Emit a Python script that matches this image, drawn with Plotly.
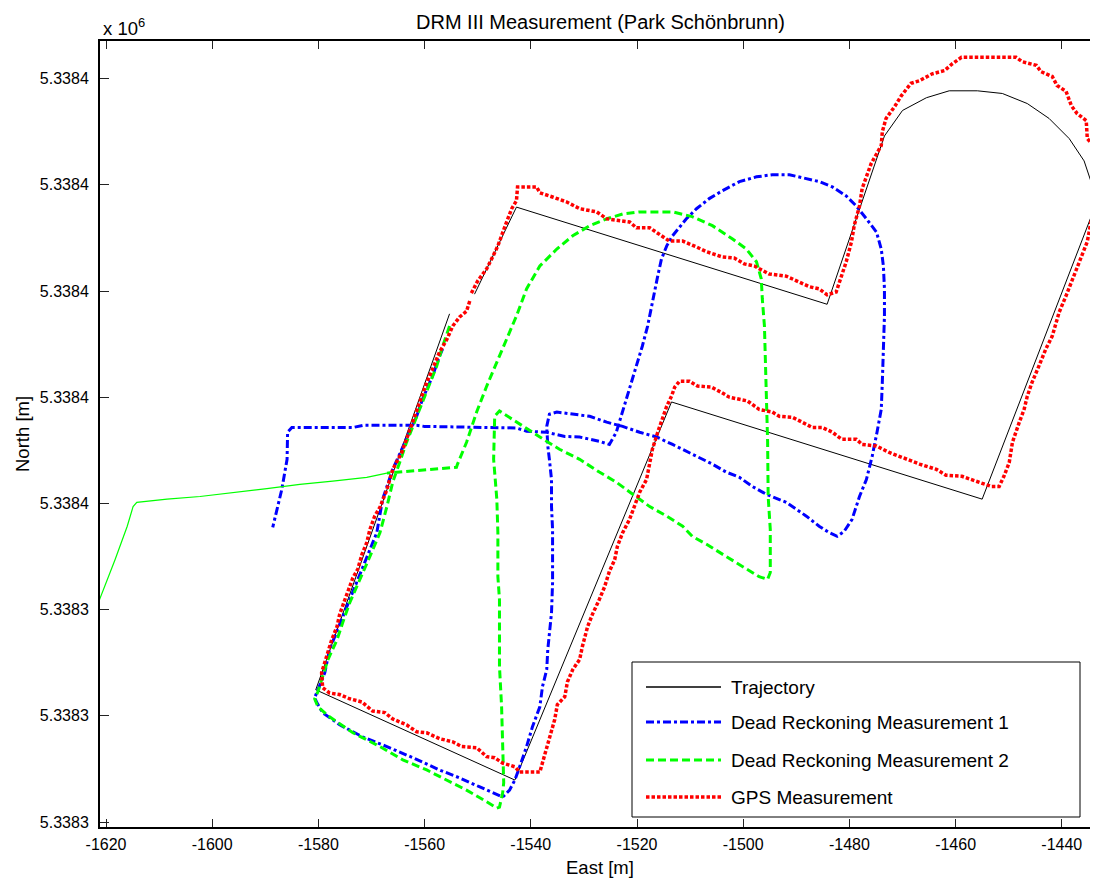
import plotly.graph_objects as go

# ---------------- data (East in m, North as offset in m from NORTH_ORIGIN) ----------------
NORTH_ORIGIN = 5338300.0

traj_east = [-1555.3, -1580.5, -1543.0, -1513.5, -1455.0, -1433.7, -1434.3, -1435.8, -1438.6, -1442.4,
             -1446.5, -1451.2, -1455.9, -1461.2, -1465.5, -1470.0, -1473.4, -1484.2, -1542.7, -1550.6]
traj_north = [95.7, 24.9, 7.9, 79.1, 60.8, 116.0, 120.0, 124.5, 128.7, 132.5,
              135.3, 137.2, 137.7, 137.7, 136.4, 134.0, 129.2, 97.5, 115.8, 99.4]

dr1_east = [-1556.6, -1557.2, -1558.5, -1560.4, -1561.5, -1563.4, -1566.0, -1567.9, -1569.0, -1570.3,
            -1571.6, -1572.8, -1574.1, -1575.6, -1576.9, -1577.9, -1578.8, -1580.1, -1580.7, -1580.3,
            -1579.2, -1576.0, -1571.6, -1567.1, -1562.2, -1557.2, -1553.4, -1549.6, -1547.2, -1545.3,
            -1544.0, -1543.0, -1542.1, -1540.8, -1539.7, -1538.3, -1537.8, -1537.0, -1536.8, -1536.5,
            -1536.1, -1535.9, -1535.9, -1536.1, -1536.1, -1536.5, -1536.8, -1537.0, -1536.5, -1535.1,
            -1532.1, -1528.9, -1525.7, -1522.7, -1519.5, -1516.3, -1513.3, -1510.7, -1508.2, -1505.8,
            -1503.2, -1500.7, -1498.3, -1495.6, -1491.9, -1490.0, -1488.1, -1485.7, -1483.8, -1482.3,
            -1481.0, -1479.5, -1478.1, -1476.8, -1475.7, -1474.8, -1474.0, -1473.8, -1473.6, -1473.4,
            -1473.4, -1473.6, -1474.0, -1474.9, -1476.8, -1478.7, -1480.6, -1483.2, -1485.7, -1488.1,
            -1491.3, -1494.5, -1497.5, -1500.7, -1503.9, -1506.4, -1508.8, -1510.7, -1512.0, -1513.3,
            -1514.4, -1515.4, -1516.1, -1516.7, -1517.3, -1518.0, -1519.0, -1519.9, -1520.8, -1522.0,
            -1523.3, -1523.9, -1525.2, -1527.1, -1530.8, -1533.6, -1537.0, -1540.8, -1542.7, -1547.2,
            -1560.0, -1561.5, -1571.6, -1573.5, -1583.5, -1585.0, -1585.8, -1585.9, -1586.9, -1588.6]
dr1_north = [89.1, 87.7, 84.0, 79.6, 76.4, 72.1, 66.4, 60.8, 54.5, 51.3,
             48.1, 45.1, 41.9, 38.1, 34.9, 32.5, 28.1, 24.9, 23.4, 22.5,
             20.6, 18.3, 16.0, 14.2, 12.1, 9.8, 8.3, 6.6, 5.5, 4.7,
             6.0, 7.9, 10.4, 14.2, 17.9, 21.7, 25.5, 28.7, 32.5, 36.2,
             39.4, 45.1, 55.1, 59.4, 64.5, 68.3, 70.8, 74.5, 76.8, 77.2,
             76.8, 76.4, 75.3, 74.5, 73.4, 72.5, 71.1, 69.8, 68.7, 67.4,
             65.9, 64.9, 63.2, 61.7, 60.2, 58.9, 57.6, 55.7, 54.5, 53.8,
             54.7, 57.0, 61.3, 64.5, 68.9, 73.4, 77.7, 82.8, 89.1, 95.3,
             100.4, 104.7, 107.9, 111.1, 113.6, 116.0, 117.9, 119.6, 120.6, 121.1,
             121.9, 121.9, 121.5, 120.6, 118.9, 117.4, 115.5, 113.6, 112.1, 110.4,
             108.5, 106.0, 102.8, 99.8, 96.6, 93.4, 89.6, 86.6, 83.4, 79.6,
             75.3, 73.4, 71.1, 71.7, 72.5, 72.6, 73.4, 73.6, 74.2, 74.3,
             74.5, 74.7, 74.7, 74.3, 74.3, 74.3, 73.4, 68.3, 62.6, 55.5]

dr2_east = [-1555.3, -1556.6, -1557.7, -1559.0, -1560.4, -1561.9, -1563.4, -1564.7, -1566.0, -1567.1,
            -1568.4, -1570.3, -1572.2, -1574.1, -1575.4, -1576.5, -1578.2, -1579.2, -1580.1, -1580.7,
            -1580.1, -1577.9, -1573.5, -1568.4, -1564.1, -1559.6, -1555.8, -1552.1, -1548.3, -1546.4,
            -1545.9, -1545.3, -1545.1, -1545.3, -1545.5, -1545.9, -1545.9, -1546.2, -1546.2, -1546.4,
            -1547.0, -1546.8, -1545.9, -1538.3, -1534.6, -1530.8, -1527.1, -1523.9, -1520.8, -1517.6,
            -1514.4, -1511.4, -1509.6, -1506.9, -1503.2, -1500.7, -1497.0, -1495.4, -1494.9, -1494.9,
            -1495.3, -1495.4, -1495.6, -1495.8, -1496.0, -1496.4, -1496.6, -1497.5, -1499.4, -1502.0,
            -1505.8, -1509.6, -1513.3, -1519.5, -1522.7, -1525.7, -1528.9, -1532.1, -1535.1, -1538.3,
            -1540.8, -1542.7, -1544.6, -1546.4, -1548.3, -1550.2, -1552.1, -1553.8, -1554.0, -1567.1]
dr2_north = [93.4, 89.6, 85.9, 82.8, 79.1, 75.3, 71.5, 67.7, 64.0, 59.4,
             54.5, 50.0, 45.7, 41.3, 37.6, 34.3, 30.6, 27.4, 24.5, 23.2,
             21.7, 19.8, 16.8, 14.2, 11.7, 9.8, 7.9, 6.0, 3.8, 2.6,
             2.8, 5.5, 7.4, 15.5, 21.7, 29.3, 41.9, 46.2, 54.5, 60.8,
             68.3, 76.4, 77.4, 72.5, 70.2, 68.3, 65.9, 64.0, 61.7, 59.4,
             57.6, 55.7, 53.8, 52.3, 50.0, 48.5, 46.2, 45.7, 47.0, 55.1,
             61.3, 71.5, 80.9, 87.2, 93.4, 98.5, 102.3, 105.5, 107.9, 109.8,
             112.3, 114.0, 114.9, 114.9, 114.5, 113.6, 112.3, 110.4, 107.9, 104.7,
             100.4, 95.3, 90.9, 86.6, 82.1, 77.2, 71.5, 67.4, 66.8, 65.7]

dr2_init_east = [-1567.1, -1570.9, -1577.3, -1583.5, -1589.7, -1596.1, -1602.3, -1608.5, -1613.0, -1614.2,
                 -1614.9, -1616.0, -1618.3, -1620.8, -1622.1]
dr2_init_north = [65.7, 64.9, 64.2, 63.6, 62.8, 62.1, 61.3, 60.8, 60.4, 60.2,
                  59.4, 55.7, 49.4, 43.2, 39.6]

gps_east = [-1551.5, -1552.1, -1553.4, -1554.7, -1555.8, -1557.2, -1558.5, -1559.6, -1560.9, -1562.2,
            -1563.2, -1564.3, -1566.0, -1567.1, -1568.4, -1569.4, -1570.3, -1570.9, -1571.8, -1572.6,
            -1573.5, -1574.1, -1575.0, -1576.0, -1576.5, -1577.5, -1578.2, -1578.8, -1579.4, -1579.2,
            -1577.9, -1576.0, -1574.1, -1571.8, -1569.8, -1567.5, -1566.0, -1563.4, -1561.5, -1559.6,
            -1557.2, -1554.7, -1553.0, -1550.2, -1548.3, -1546.8, -1545.3, -1543.0, -1542.1, -1538.3,
            -1537.8, -1537.0, -1536.1, -1535.5, -1535.0, -1533.6, -1533.1, -1532.1, -1530.8, -1530.3,
            -1529.3, -1528.4, -1527.1, -1526.1, -1525.2, -1524.2, -1523.7, -1522.7, -1521.4, -1520.5,
            -1519.5, -1518.2, -1517.6, -1517.1, -1516.1, -1515.2, -1514.4, -1513.5, -1512.9, -1512.0,
            -1510.1,
            -1508.6, -1506.0, -1504.1, -1502.6, -1500.7, -1499.2, -1497.0, -1494.5, -1493.2, -1490.7,
            -1488.9, -1487.0, -1485.1, -1483.2, -1481.5, -1478.7, -1477.6, -1474.9, -1472.5, -1469.3,
            -1466.8, -1463.6, -1461.8, -1458.8, -1455.6, -1453.3, -1451.8,
            -1450.9, -1449.9, -1449.3, -1448.0, -1447.1, -1446.5, -1445.6, -1444.3, -1443.0, -1441.8,
            -1440.5, -1439.2, -1438.2, -1437.3, -1436.2, -1435.2, -1434.5, -1433.5, -1432.4,
            -1433.4, -1433.5, -1435.2, -1435.4, -1437.1, -1438.2, -1439.2, -1440.9, -1441.8, -1443.9,
            -1444.8, -1447.5, -1448.6, -1458.9, -1460.6, -1462.1, -1464.4, -1466.8, -1468.4, -1470.2,
            -1471.5, -1473.1, -1473.8, -1474.0, -1475.9, -1476.8, -1477.6, -1478.1, -1479.1, -1479.6,
            -1480.6, -1481.5, -1482.5,
            -1484.2, -1485.7, -1487.5, -1490.0, -1491.9, -1495.1, -1497.9, -1499.8, -1501.7, -1503.9,
            -1506.9, -1508.8, -1511.4, -1513.9, -1516.3, -1517.6, -1520.1, -1521.4, -1525.7, -1527.6,
            -1530.8, -1533.3, -1535.9, -1538.3, -1538.9, -1542.5, -1542.7, -1543.6, -1544.9, -1546.2,
            -1547.2, -1548.3, -1550.0, -1551.3]
gps_north = [98.1, 96.2, 95.1, 93.4, 90.9, 88.5, 85.3, 82.8, 79.1, 75.3,
             72.6, 69.6, 66.4, 62.6, 59.3, 57.6, 55.1, 52.6, 50.4, 47.6,
             46.0, 44.2, 41.9, 39.1, 36.8, 34.3, 31.9, 29.6, 28.1, 25.3,
             24.3, 24.0, 23.2, 22.6, 20.9, 20.6, 19.4, 18.3, 17.0, 16.8,
             15.7, 15.1, 14.2, 14.0, 12.3, 12.1, 11.1, 10.4, 9.4, 9.4,
             11.1, 14.2, 16.8, 19.3, 22.1, 23.6, 26.4, 28.7, 30.6, 33.0,
             36.8, 39.1, 41.9, 44.3, 47.2, 49.4, 51.9, 54.5, 57.0, 59.4,
             62.1, 64.5, 67.7, 70.2, 73.4, 75.9, 78.3, 80.2, 81.9, 83.0,
             83.0,
             82.1, 81.9, 80.9, 80.0, 79.6, 79.3, 77.7, 77.2, 76.4, 76.2,
             75.3, 74.3, 74.3, 73.4, 72.1, 72.1, 71.1, 70.8, 69.6, 68.3,
             67.4, 66.4, 65.3, 65.1, 64.0, 63.2, 63.2,
             65.1, 67.7, 71.5, 75.3, 77.7, 80.2, 82.8, 85.9, 89.1, 91.5,
             96.0, 99.1, 101.7, 104.2, 107.0, 109.3, 113.0, 116.0, 118.9,
             121.7, 126.8, 128.7, 132.1, 133.4, 134.9, 137.6, 138.7, 140.4, 141.3,
             142.5, 143.2, 144.0, 144.0, 142.8, 141.5, 140.9, 139.6, 139.1, 136.8,
             134.7, 132.5, 130.0, 127.4, 124.0, 121.7, 119.3, 116.0, 112.3, 109.3,
             105.5, 102.8, 99.8,
             99.3, 100.4, 100.8, 101.9, 102.8, 103.2, 104.7, 105.1, 106.2, 106.4,
             107.4, 108.3, 109.4, 109.4, 111.1, 111.9, 111.9, 113.0, 113.6, 114.9,
             115.5, 116.8, 117.7, 118.5, 119.6, 119.6, 117.0, 115.5, 112.1, 108.5,
             106.4, 104.2, 101.9, 99.4]

east_ticks = [-1620, -1600, -1580, -1560, -1540, -1520, -1500, -1480, -1460, -1440]
north_ticks = [5338300, 5338320, 5338340, 5338360, 5338380, 5338400, 5338420, 5338440]
north_tick_text = [f"{v / 1e6:.4f}" for v in north_ticks]

series_names = ["Trajectory", "Dead Reckoning Measurement 1",
                "Dead Reckoning Measurement 2", "GPS Measurement"]

# ---------------- layout / style (page pixel coordinates) ----------------
PAGE_W, PAGE_H = 1098, 879
BODY = 8                                      # default body margin of the html page
W, H = PAGE_W - BODY, PAGE_H - BODY           # figure size
PL, PR, PT, PB = 100, 1098, 41, 827           # plot area on the page
PX_PER_M = 5.31
X_MIN = -1620 - 6 / PX_PER_M
X_MAX = X_MIN + (PR - PL) / PX_PER_M
Y_MIN = NORTH_ORIGIN - 5 / PX_PER_M
Y_MAX = Y_MIN + (PB - PT) / PX_PER_M

FONT = "Arial, Liberation Sans, sans-serif"
TICK_FS = 16
TEXT_FS = 19
TITLE_FS = 20
styles = [
    dict(color="black", width=1, dash="solid"),
    dict(color="#0000ff", width=3, dash="8px,3px,3px,3px"),
    dict(color="#00ff00", width=3, dash="8px,4px"),
    dict(color="#ff0000", width=3.5, dash="3.5px,2px"),
]


def nabs(offsets):
    return [NORTH_ORIGIN + v for v in offsets]


def pxx(px):
    return (px - PL) / (PR - PL)


def pxy(py):
    return (PB - py) / (PB - PT)


fig = go.Figure()
fig.add_trace(go.Scatter(x=traj_east, y=nabs(traj_north), mode="lines", name=series_names[0],
                         line=styles[0], showlegend=False))
fig.add_trace(go.Scatter(x=dr1_east, y=nabs(dr1_north), mode="lines", name=series_names[1],
                         line=styles[1], showlegend=False))
fig.add_trace(go.Scatter(x=dr2_init_east, y=nabs(dr2_init_north), mode="lines", name="DR2 initial",
                         line=dict(color="#00ff00", width=1.2), showlegend=False))
fig.add_trace(go.Scatter(x=dr2_east, y=nabs(dr2_north), mode="lines", name=series_names[2],
                         line=styles[2], showlegend=False))
fig.add_trace(go.Scatter(x=gps_east, y=nabs(gps_north), mode="lines", name=series_names[3],
                         line=styles[3], showlegend=False))

shapes = []
annotations = []

# legend box (manual, MATLAB style)
LEG_L, LEG_R, LEG_T, LEG_B = 632, 1080, 662, 817
shapes.append(dict(type="rect", xref="paper", yref="paper", layer="above",
                   x0=pxx(LEG_L), x1=pxx(LEG_R), y0=pxy(LEG_B), y1=pxy(LEG_T),
                   line=dict(color="black", width=1), fillcolor="white"))
row_y = [687, 722, 760, 797]
for name, st, ry in zip(series_names, styles, row_y):
    lw = st["width"] if st["width"] > 1 else 1.5
    shapes.append(dict(type="line", xref="paper", yref="paper", layer="above",
                       x0=pxx(646), x1=pxx(721), y0=pxy(ry), y1=pxy(ry),
                       line=dict(color=st["color"], width=lw, dash=st["dash"])))
    annotations.append(dict(xref="paper", yref="paper", x=pxx(729), y=pxy(ry),
                            xanchor="left", yanchor="middle", showarrow=False, text=name,
                            font=dict(family=FONT, size=TEXT_FS, color="black")))

# exponent label, title and axis titles
annotations.append(dict(xref="paper", yref="paper", x=pxx(101), y=pxy(27), xanchor="left",
                        yanchor="middle", showarrow=False, text="x 10<sup>6</sup>",
                        font=dict(family=FONT, size=18.5, color="black")))
annotations.append(dict(xref="paper", yref="paper", x=pxx(600), y=pxy(867), xanchor="center",
                        yanchor="middle", showarrow=False, text="East [m]",
                        font=dict(family=FONT, size=18.5, color="black")))
annotations.append(dict(xref="paper", yref="paper", x=pxx(22), y=pxy(434), xanchor="center",
                        yanchor="middle", showarrow=False, text="North [m]", textangle=-90,
                        font=dict(family=FONT, size=18.5, color="black")))
annotations.append(dict(xref="paper", yref="paper", x=pxx(600), y=pxy(22), xanchor="center",
                        yanchor="middle", showarrow=False,
                        text="DRM III Measurement (Park Schönbrunn)",
                        font=dict(family=FONT, size=TITLE_FS, color="black")))

fig.update_layout(
    width=W, height=H,
    margin=dict(l=PL - BODY, r=PAGE_W - PR, t=PT - BODY, b=PAGE_H - PB, pad=0),
    paper_bgcolor="white", plot_bgcolor="white",
    font=dict(family=FONT, size=TICK_FS, color="black"),
    showlegend=False,
    shapes=shapes,
    annotations=annotations,
)
fig.update_xaxes(range=[X_MIN, X_MAX], tickvals=east_ticks, ticktext=[str(v) for v in east_ticks],
                 ticks="inside", ticklen=8, tickwidth=1, tickcolor="#222",
                 showline=True, linecolor="black", linewidth=2, mirror="ticks",
                 showgrid=False, zeroline=False,
                 tickfont=dict(family=FONT, size=TICK_FS, color="black"),
                 ticklabelstandoff=2)
fig.update_yaxes(range=[Y_MIN, Y_MAX], tickvals=north_ticks, ticktext=north_tick_text,
                 ticks="inside", ticklen=9, tickwidth=1, tickcolor="#222",
                 showline=True, linecolor="black", linewidth=2, mirror=False,
                 showgrid=False, zeroline=False,
                 tickfont=dict(family=FONT, size=TICK_FS, color="black"),
                 ticklabelstandoff=6)

fig.write_html("out.html")
